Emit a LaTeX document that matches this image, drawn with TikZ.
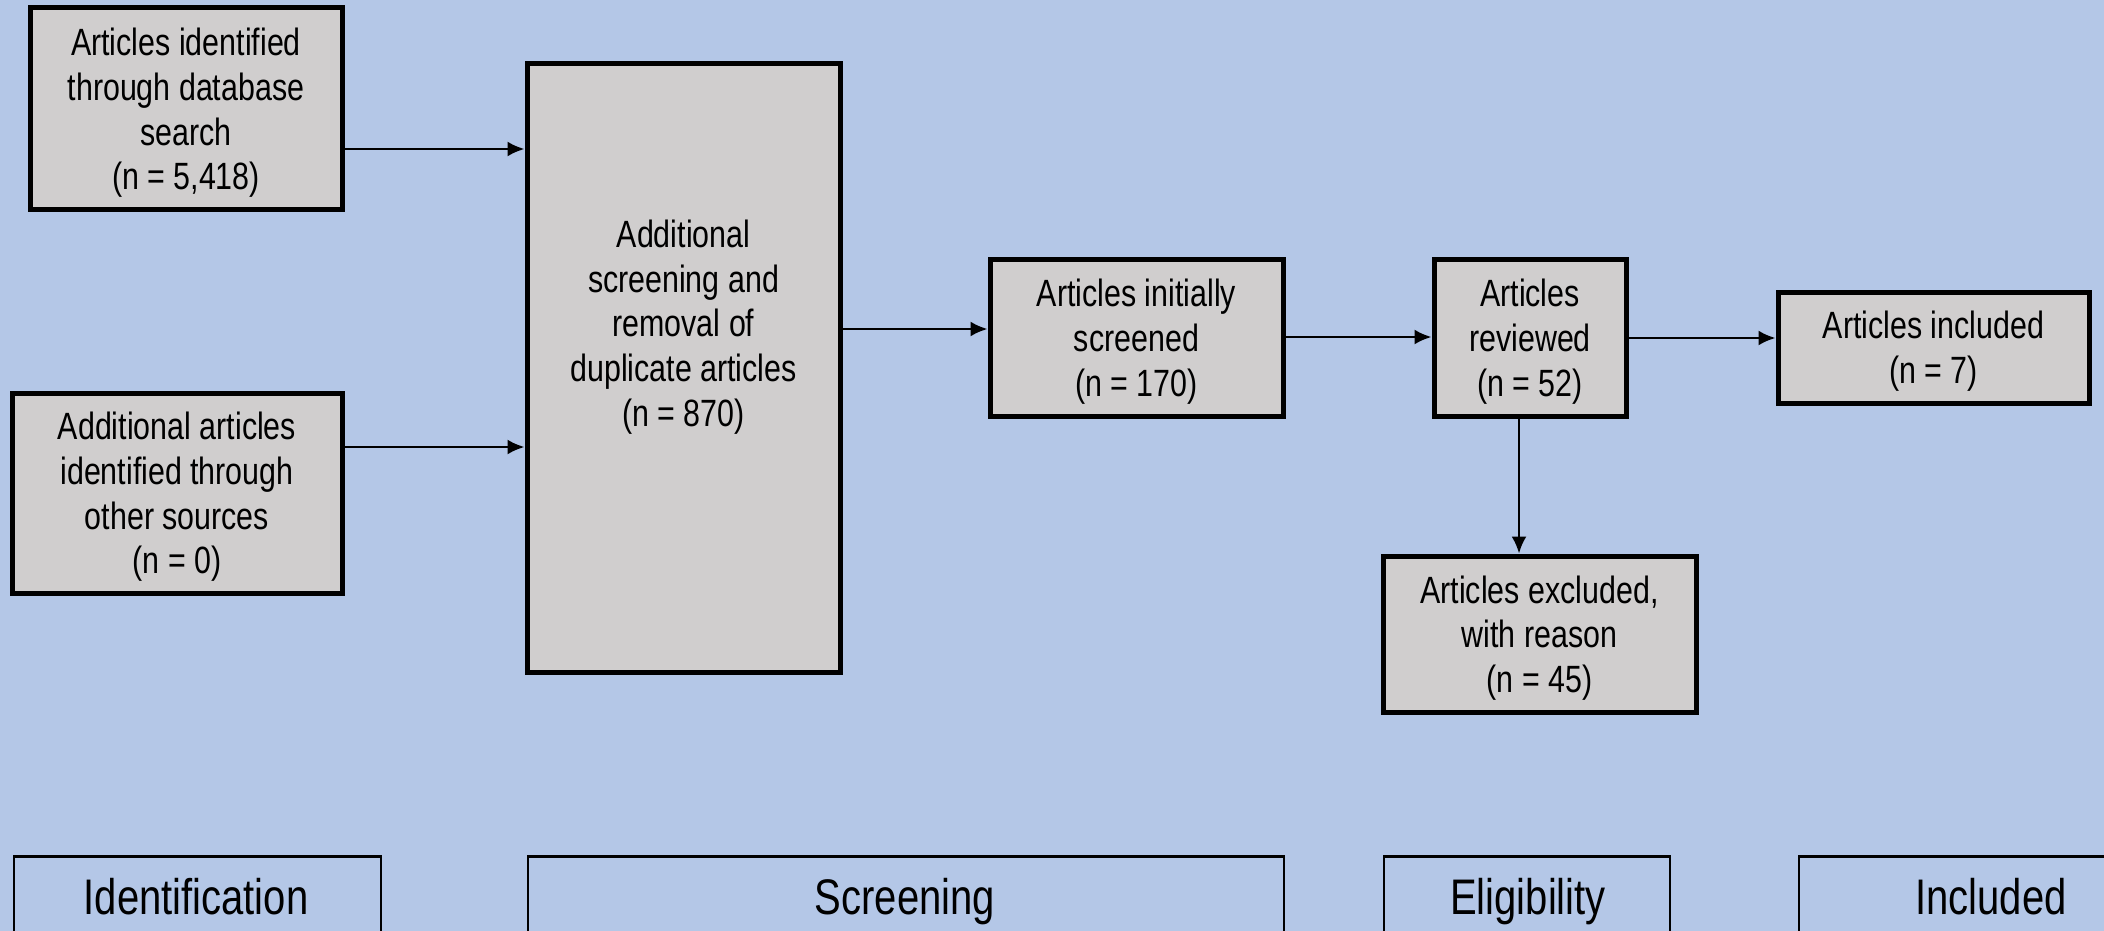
\documentclass[tikz,border=0pt]{standalone}
\usepackage{fontspec}
\setmainfont{Liberation Sans}[FakeStretch=0.80]
\usetikzlibrary{arrows.meta}
\definecolor{bgblue}{HTML}{B4C7E7}
\definecolor{boxgray}{HTML}{D0CECE}
\tikzset{
  flowbox/.style={draw=black, line width=5pt, fill=boxgray, rectangle, inner sep=0pt},
  txt/.style={align=center, inner sep=0pt, font=\fontsize{38}{44.7}\selectfont},
  stagebox/.style={draw=black, line width=1.5pt, rectangle, inner sep=0pt},
  stagetxt/.style={inner sep=0pt, anchor=base, font=\fontsize{50}{56}\selectfont},
  arr/.style={line width=2.5pt, -{Latex[length=17pt,width=15pt]}}
}
\begin{document}
\begin{tikzpicture}[x=1pt,y=-1pt]
\fill[bgblue] (0,0) rectangle (2104,931);
\useasboundingbox (0,0) rectangle (2104,931);

\node[flowbox, minimum width=312pt, minimum height=201pt] (b1) at (186,108.5) {};
\node[txt] (b1t) at (186,113) {Articles identified\\through database\\search\\(n = 5,418)};
\node[flowbox, minimum width=330pt, minimum height=200pt] (b2) at (177,493) {};
\node[txt] (b2t) at (177,497) {Additional articles\\identified through\\other sources\\(n = 0)};
\node[flowbox, minimum width=313pt, minimum height=608pt] (big) at (683.5,368) {};
\node[txt] (bigt) at (683.5,327)
  {Additional\\screening and\\removal of\\duplicate articles\\(n = 870)};
\node[flowbox, minimum width=293pt, minimum height=157pt] (scr) at (1136.5,337.5) {};
\node[txt] (scrt) at (1136.5,341.5) {Articles initially\\screened\\(n = 170)};
\node[flowbox, minimum width=192pt, minimum height=157pt] (rev) at (1530,337.5) {};
\node[txt] (revt) at (1530,341.5) {Articles\\reviewed\\(n = 52)};
\node[flowbox, minimum width=311pt, minimum height=111pt] (inc) at (1933.5,347.5) {};
\node[txt] (inct) at (1933.5,351.5) {Articles included\\(n = 7)};
\node[flowbox, minimum width=313pt, minimum height=156pt] (exc) at (1539.5,634) {};
\node[txt] (exct) at (1539.5,638) {Articles excluded,\\with reason\\(n = 45)};

\draw[arr] (b1.east |- 0,149) -- (big.west |- 0,149);
\draw[arr] (b2.east |- 0,447) -- (big.west |- 0,447);
\draw[arr] (big.east |- 0,329) -- (scr.west |- 0,329);
\draw[arr] (scr.east |- 0,337) -- (rev.west |- 0,337);
\draw[arr] (rev.east |- 0,338) -- (inc.west |- 0,338);
\draw[arr] (rev.south -| 1519,0) -- (exc.north -| 1519,0);

\node[stagebox, minimum width=367pt, minimum height=100pt, anchor=north west] (s1) at (13,856) {};
\node[stagebox, minimum width=756pt, minimum height=100pt, anchor=north west] (s2) at (527,856) {};
\node[stagebox, minimum width=286pt, minimum height=100pt, anchor=north west] (s3) at (1383,856) {};
\node[stagebox, minimum width=320pt, minimum height=100pt, anchor=north west] (s4) at (1798,856) {};
\draw[line width=3pt] (s1.north west) -- (s1.north east);
\draw[line width=3pt] (s2.north west) -- (s2.north east);
\draw[line width=3pt] (s3.north west) -- (s3.north east);
\draw[line width=3pt] (s4.north west) -- (s4.north east);
\node[stagetxt] (t1) at (196,914) {Identification};
\node[stagetxt] (t2) at (905,914) {Screening};
\node[stagetxt] (t3) at (1528,914) {Eligibility};
\node[stagetxt] (t4) at (1991,914) {Included};
\end{tikzpicture}
\end{document}
